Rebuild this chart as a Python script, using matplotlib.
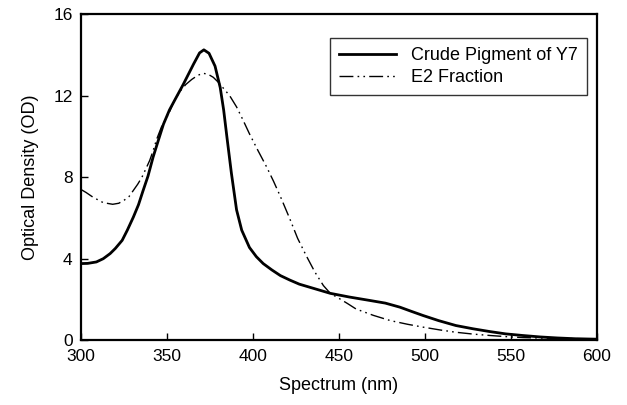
import numpy as np
import matplotlib.pyplot as plt

plt.rcParams['font.family'] = ['Liberation Sans', 'DejaVu Sans']

crude_nm = [300, 304, 309, 313, 317, 320, 324, 327, 330.5, 333.5, 336, 339, 342, 345, 348,
            351.5, 355, 359.5, 362.5, 365.5, 369, 371.5, 374.5, 378, 381, 383, 385, 387.5,
            390.5, 393.5, 398, 402, 406, 411, 416, 421.5, 427, 435, 445, 456, 468, 477,
            485.5, 492, 499, 508, 518, 528, 538, 547, 557, 567, 577, 588, 600]
crude_od = [3.76, 3.77, 3.84, 4.0, 4.25, 4.5, 4.9, 5.4, 6.04, 6.65, 7.3, 8.05, 8.99, 9.8, 10.6,
            11.3, 11.85, 12.55, 13.05, 13.55, 14.1, 14.25, 14.08, 13.45, 12.4, 11.3, 9.9, 8.2,
            6.4, 5.4, 4.55, 4.1, 3.76, 3.45, 3.17, 2.95, 2.75, 2.55, 2.3, 2.12, 1.95, 1.82,
            1.62, 1.42, 1.21, 0.96, 0.72, 0.56, 0.42, 0.31, 0.23, 0.16, 0.11, 0.07, 0.05]

e2_nm = [300, 303, 307, 313, 318.5, 322, 325, 328, 330.5, 333, 335.5, 338, 340, 342, 344,
         347, 351, 354, 357.5, 361, 364.5, 368, 371, 374, 377, 380, 383, 386.5, 390.5,
         394, 398, 403, 408, 412, 416, 421.5, 426, 431, 436, 441, 445, 450.5, 455, 460,
         470, 480, 490, 499, 509, 518, 528, 538, 548, 557, 570, 585, 600]
e2_od = [7.4, 7.25, 7.02, 6.75, 6.67, 6.72, 6.86, 7.05, 7.35, 7.65, 8.0, 8.45, 8.82, 9.3, 9.85,
         10.5, 11.1, 11.7, 12.2, 12.55, 12.8, 13.0, 13.1, 13.05, 12.9, 12.65, 12.35, 12.0, 11.45,
         10.85, 10.13, 9.3, 8.5, 7.8, 7.05, 5.95, 5.0, 4.15, 3.35, 2.68, 2.3, 2.03, 1.8, 1.53,
         1.22, 0.96, 0.78, 0.64, 0.5, 0.39, 0.3, 0.23, 0.17, 0.13, 0.1, 0.08, 0.07]

x_ticks = [300, 350, 400, 450, 500, 550, 600]
y_ticks = [0, 4, 8, 12, 16]

fig = plt.figure(figsize=(6.27, 4.05), dpi=100)
ax = fig.add_axes([0.129, 0.160, 0.823, 0.805])

ax.plot(crude_nm, crude_od, color='black', lw=2.0, solid_joinstyle='round',
        label='Crude Pigment of Y7')
ax.plot(e2_nm, e2_od, color='black', lw=1.0, dashes=(10, 3, 1.2, 3, 1.2, 3),
        label='E2 Fraction')

ax.set_xlim(300, 600)
ax.set_ylim(0, 16)
ax.set_xticks(x_ticks)
ax.set_yticks(y_ticks)
ax.tick_params(direction='in', length=5, width=1, labelsize=12.5, pad=6)
for sp in ax.spines.values():
    sp.set_linewidth(1.6)

ax.set_xlabel('Spectrum (nm)', fontsize=13, labelpad=10)
ax.set_ylabel('Optical Density (OD)', fontsize=13, labelpad=10)

leg = ax.legend(loc='upper right', bbox_to_anchor=(0.98, 0.926), borderaxespad=0,
                fontsize=13, frameon=True, fancybox=False, edgecolor='black',
                handlelength=3.2, borderpad=0.5, labelspacing=0.25)
leg.get_frame().set_linewidth(1.0)

fig.savefig('out.png', dpi=100)
